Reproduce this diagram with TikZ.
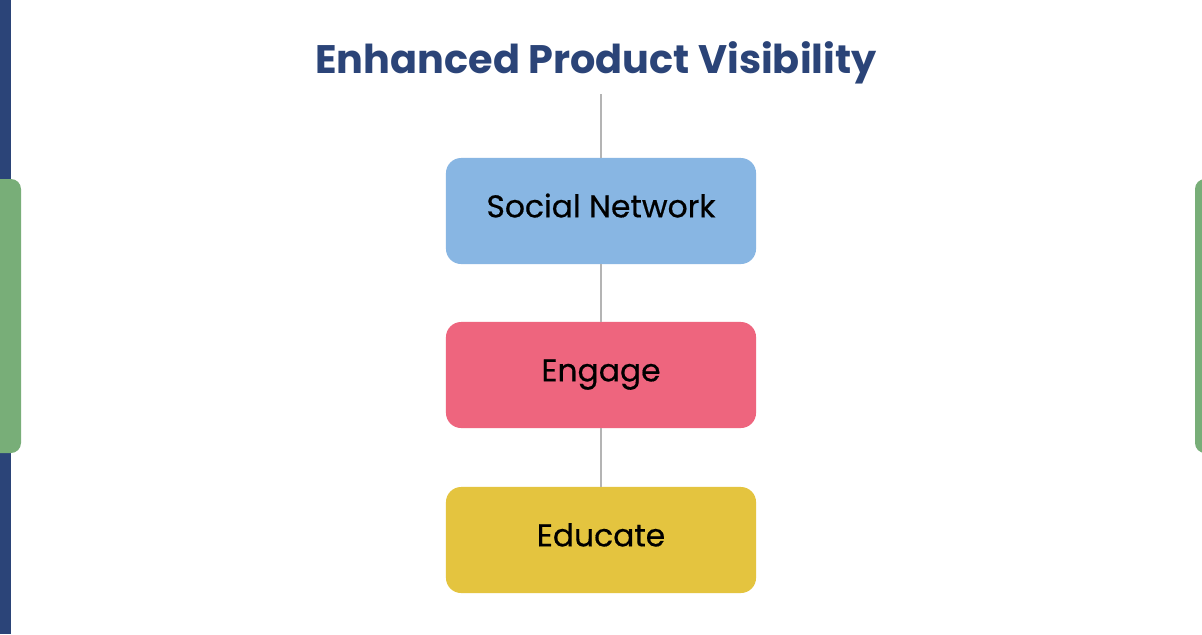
\documentclass[tikz,border=0pt]{standalone}
\usepackage{fontspec}
\setmainfont{Poppins}
\usetikzlibrary{shapes,arrows}
\usetikzlibrary{calc}
\definecolor{navy}{HTML}{2B4478}
\definecolor{sidegreen}{HTML}{78AE78}
\definecolor{boxblue}{HTML}{88B6E3}
\definecolor{boxred}{HTML}{EE657E}
\definecolor{boxyellow}{HTML}{E4C43F}
\definecolor{linkgray}{HTML}{B4B4B4}
\tikzstyle{link}=[draw, linkgray, line width=0.9pt]
\tikzstyle{stepbox}=[rectangle, rounded corners=0.38cm, minimum width=7.75cm, minimum height=2.65cm, inner sep=0pt, text height=15pt, text depth=6pt, font=\fontsize{22.3}{26}\selectfont\addfontfeatures{FakeBold=0.5}]

\begin{document}
\begin{tikzpicture}[x=0.025cm, y=-0.025cm]
  \useasboundingbox (0,0) rectangle (1202,634);
  \clip (0,0) rectangle (1202,634);
  %\draw [help lines, step=50] (0,0) grid (1202,634);
  \fill[white] (0,0) rectangle (1202,634);

  % side bars
  \fill[navy] (0,0) rectangle (11,634);
  \fill[sidegreen, rounded corners=0.25cm] (-20,179) rectangle (21,453);
  \fill[sidegreen, rounded corners=0.25cm] (1195,179) rectangle (1240,453);

  \node[text=navy, font=\fontsize{28.3}{32}\selectfont\bfseries] (title) at (596,63) {Enhanced Product Visibility};

  \node[stepbox, fill=boxblue] (social) at (601,211) {Social Network};
  \node[stepbox, fill=boxred] (engage) at (601,375) {Engage};
  \node[stepbox, fill=boxyellow] (educate) at (601,540) {Educate};

  \coordinate (top) at (601,94);
  \draw[link] (top) -- (social);
  \draw[link] (social) -- (engage);
  \draw[link] (engage) -- (educate);

\end{tikzpicture}
\end{document}
